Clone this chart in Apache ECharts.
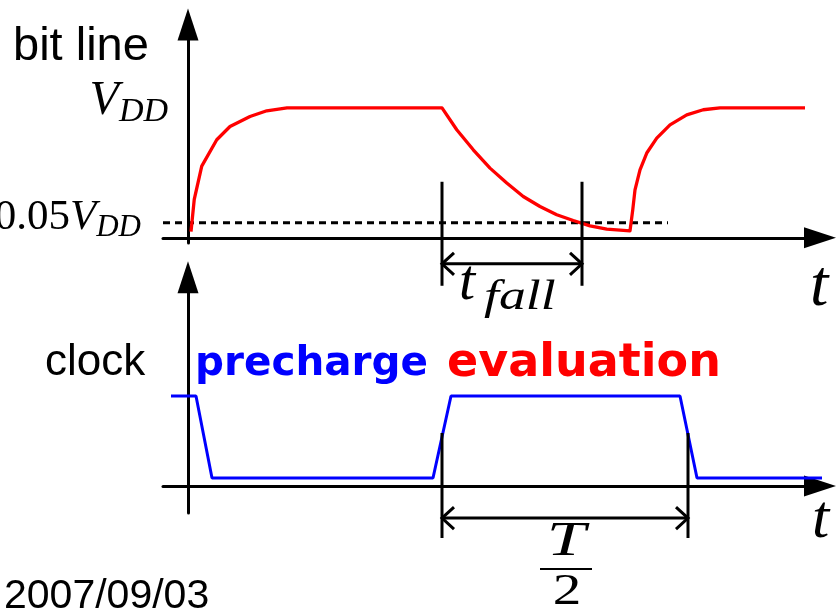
<!DOCTYPE html>
<html>
<head>
<meta charset="utf-8">
<title>bit line / clock</title>
<script src="https://cdn.jsdelivr.net/npm/echarts@6/dist/echarts.min.js"></script>
<style>
html, body { margin: 0; padding: 0; background: #fff; }
#chart { width: 839px; height: 609px; }
</style>
</head>
<body>
<div id="chart"></div>
<script>
// time in arbitrary units, bit line level in VDD, clock level 0..1
var timeRange = [-1, 25.28];

var bitTime = [0.12, 0.25, 0.55, 1.15, 1.68, 2.48, 3.15, 3.96,
	10.16, 10.75, 11.41, 12.08, 12.75, 13.41, 14.08, 14.75, 15.41, 16.08, 16.75, 17.68,
	17.75, 17.79, 17.88, 18.08, 18.35, 18.75, 19.28, 19.95, 20.61, 21.28, 24.68];
var bitLevel = [0.048, 0.295, 0.551, 0.754, 0.856, 0.933, 0.977, 1.0,
	1.0, 0.831, 0.677, 0.536, 0.421, 0.318, 0.241, 0.177, 0.133, 0.092, 0.067, 0.054,
	0.054, 0.215, 0.369, 0.523, 0.652, 0.767, 0.869, 0.946, 0.985, 1.0, 1.0];

var clockTime = [-0.68, 0.32, 0.96, 9.8, 10.52, 19.68, 20.36, 25.64];
var clockLevel = [1, 1, 0.089, 0.089, 1, 1, 0.089, 0.089];

// dashed threshold, drawn level of "0.05 VDD"
var thresholdLevel = 0.115;
var thresholdSpan = [-1, 19.2];

// tick labels on the bit line axis
var bitTickValues = [thresholdLevel, 1];
var bitTickLabels = ['{n|0.05}{w|V}{e|DD}{g|}', '{v|V}{d|DD}'];

// dimension markers: [start, end, arrow level, top, bottom]
var fallSpan = [10.16, 15.76, -0.2, 0.431, -0.369];
var halfPeriodSpan = [10.16, 20.0, -0.356, 0.589, -0.578];

function zip(a, b) {
	var out = [];
	for (var i = 0; i < a.length; i++) {
		out.push([a[i], b[i]]);
	}
	return out;
}

function timeAxis(idx) {
	return {
		type : 'value',
		gridIndex : idx,
		min : timeRange[0],
		max : timeRange[1],
		axisLine : {
			onZero : true,
			symbol : [ 'none', 'triangle' ],
			symbolSize : [ 21, 32 ],
			lineStyle : { color : '#000', width : 3 }
		},
		axisTick : { show : false },
		axisLabel : { show : false },
		splitLine : { show : false }
	};
}

function levelAxis(idx, min, max) {
	return {
		type : 'value',
		gridIndex : idx,
		min : min,
		max : max,
		axisLine : {
			show : true,
			onZero : true,
			symbol : [ 'none', 'triangle' ],
			symbolSize : [ 21, 32 ],
			lineStyle : { color : '#000', width : 3 }
		},
		axisTick : { show : false },
		axisLabel : { show : false },
		splitLine : { show : false }
	};
}

function renderSpan(params, api) {
	var a = api.coord([ api.value(0), api.value(2) ]);
	var b = api.coord([ api.value(1), api.value(2) ]);
	var top = api.coord([ api.value(0), api.value(3) ])[1];
	var bot = api.coord([ api.value(0), api.value(4) ])[1];
	var s = { stroke : '#000', lineWidth : 3, fill : null };
	var dx = 12, dy = 11;
	return {
		type : 'group',
		children : [
			{ type : 'line', shape : { x1 : a[0], y1 : top, x2 : a[0], y2 : bot }, style : s },
			{ type : 'line', shape : { x1 : b[0], y1 : top, x2 : b[0], y2 : bot }, style : s },
			{ type : 'line', shape : { x1 : a[0], y1 : a[1], x2 : b[0], y2 : b[1] }, style : s },
			{ type : 'polyline', shape : { points : [ [ a[0] + dx, a[1] - dy ], [ a[0], a[1] ], [ a[0] + dx, a[1] + dy ] ] }, style : s },
			{ type : 'polyline', shape : { points : [ [ b[0] - dx, b[1] - dy ], [ b[0], b[1] ], [ b[0] - dx, b[1] + dy ] ] }, style : s }
		]
	};
}

var serif = 'Liberation Serif';

var topY = levelAxis(0, -0.04, 1.64);
topY.axisLabel = {
	show : true,
	customValues : bitTickValues,
	margin : -5,
	color : '#000',
	formatter : function(value) {
		return value === 1 ? bitTickLabels[1] : bitTickLabels[0];
	},
	rich : {
		v : { fontFamily : serif, fontStyle : 'italic', fontSize : 48, color : '#000', padding : [ 0, 0, 12, 0 ] },
		d : { fontFamily : serif, fontStyle : 'italic', fontSize : 34, color : '#000', padding : [ 8, 0, 0, 0 ] },
		n : { fontFamily : serif, fontSize : 43, color : '#000', padding : [ 0, 0, 10, 0 ] },
		w : { fontFamily : serif, fontStyle : 'italic', fontSize : 43, color : '#000', padding : [ 0, 0, 10, 0 ] },
		e : { fontFamily : serif, fontStyle : 'italic', fontSize : 31, color : '#000', padding : [ 10, 0, 0, 0 ] },
		g : { width : 27 }
	}
};

var option = {
	animation : false,
	backgroundColor : '#fff',
	grid : [
		{ left : 163, right : 19, top : 24.6, height : 218.4, outerBoundsMode : 'none', containLabel : false },
		{ left : 163, right : 19, top : 277.2, height : 235.8, outerBoundsMode : 'none', containLabel : false }
	],
	xAxis : [ timeAxis(0), timeAxis(1) ],
	yAxis : [ topY, levelAxis(1, -0.3, 2.32) ],
	series : [ {
		name : 'threshold',
		type : 'line',
		xAxisIndex : 0,
		yAxisIndex : 0,
		data : [ [ thresholdSpan[0], thresholdLevel ], [ thresholdSpan[1], thresholdLevel ] ],
		symbol : 'none',
		lineStyle : { color : '#000', width : 3, type : [ 7, 5 ] },
		z : 3
	}, {
		name : 'bit line',
		type : 'line',
		xAxisIndex : 0,
		yAxisIndex : 0,
		data : zip(bitTime, bitLevel),
		symbol : 'none',
		smooth : false,
		clip : false,
		lineStyle : { color : '#ff0000', width : 3.3, join : 'round' },
		z : 4
	}, {
		name : 'clock',
		type : 'line',
		xAxisIndex : 1,
		yAxisIndex : 1,
		data : zip(clockTime, clockLevel),
		symbol : 'none',
		clip : false,
		lineStyle : { color : '#0000ff', width : 3 },
		z : 4
	}, {
		name : 't_fall',
		type : 'custom',
		xAxisIndex : 0,
		yAxisIndex : 0,
		renderItem : renderSpan,
		data : [ fallSpan ],
		z : 5
	}, {
		name : 'T/2',
		type : 'custom',
		xAxisIndex : 1,
		yAxisIndex : 1,
		renderItem : renderSpan,
		data : [ halfPeriodSpan ],
		z : 5
	} ],
	graphic : [
		{ type : 'text', x : 13, y : 47, style : { text : 'bit line', font : '47px "Liberation Sans"', fill : '#000', verticalAlign : 'middle' } },
		{ type : 'text', x : 45, y : 363, style : { text : 'clock', font : '44px "Liberation Sans"', fill : '#000', verticalAlign : 'middle' } },
		{ type : 'text', x : 195, y : 364, style : { text : 'precharge', font : 'bold 40.5px "DejaVu Sans"', fill : '#0000ff', verticalAlign : 'middle' } },
		{ type : 'text', x : 447, y : 364, style : { text : 'evaluation', font : 'bold 46px "DejaVu Sans"', fill : '#ff0000', verticalAlign : 'middle' } },
		{ type : 'text', x : 4, y : 597, style : { text : '2007/09/03', font : '41px "Liberation Sans"', fill : '#000', verticalAlign : 'middle' } },
		{ type : 'text', x : 459, y : 284, style : { text : 't', font : 'italic 58px "Liberation Serif"', fill : '#000', verticalAlign : 'middle' } },
		{ type : 'text', x : 484, y : 298, scaleX : 1.25, style : { text : 'fall', font : 'italic 43px "Liberation Serif"', fill : '#000', verticalAlign : 'middle' } },
		{ type : 'text', x : 566, y : 542, scaleX : 1.45, style : { text : 'T', font : 'italic 48px "Liberation Serif"', fill : '#000', align : 'center', verticalAlign : 'middle' } },
		{ type : 'rect', shape : { x : 540, y : 568, width : 52, height : 2 }, style : { fill : '#000' } },
		{ type : 'text', x : 567, y : 592, scaleX : 1.3, style : { text : '2', font : '44px "Liberation Serif"', fill : '#000', align : 'center', verticalAlign : 'middle' } },
		{ type : 'text', x : 810, y : 288, style : { text : 't', font : 'italic 66px "Liberation Serif"', fill : '#000', verticalAlign : 'middle' } },
		{ type : 'text', x : 812, y : 521, style : { text : 't', font : 'italic 62px "Liberation Serif"', fill : '#000', verticalAlign : 'middle' } }
	]
};

var chart = echarts.init(document.getElementById('chart'));
chart.setOption(option);
</script>
</body>
</html>
